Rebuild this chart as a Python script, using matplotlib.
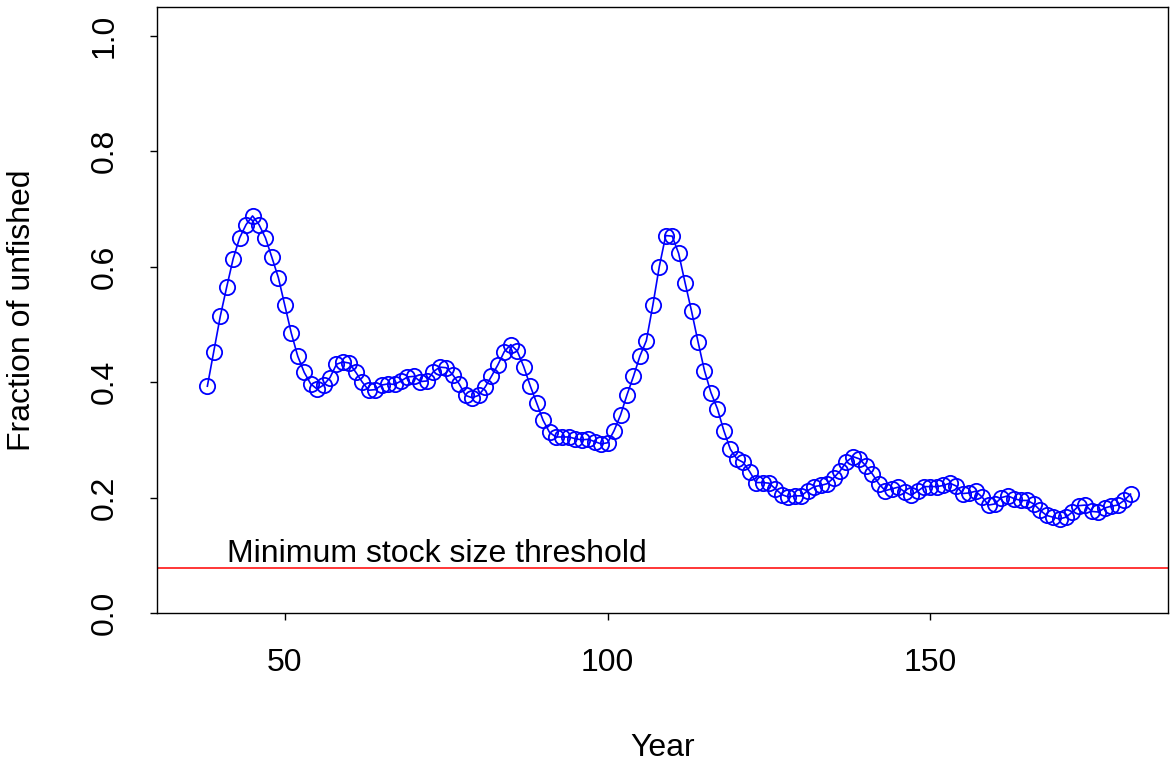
import matplotlib
matplotlib.use("Agg")
import matplotlib.pyplot as plt

plt.rcParams['font.family'] = ['Liberation Sans', 'DejaVu Sans']

years = list(range(38, 182))
fraction = [
    0.393, 0.453, 0.514, 0.565, 0.614, 0.650, 0.673, 0.688, 0.673, 0.650,   # 38-47
    0.616, 0.581, 0.533, 0.485, 0.445, 0.417, 0.397, 0.388, 0.395, 0.408,   # 48-57
    0.431, 0.435, 0.433, 0.417, 0.400, 0.386, 0.387, 0.395, 0.397, 0.396,   # 58-67
    0.402, 0.409, 0.410, 0.401, 0.402, 0.418, 0.426, 0.425, 0.413, 0.397,   # 68-77
    0.377, 0.373, 0.377, 0.391, 0.410, 0.430, 0.453, 0.465, 0.454, 0.427,   # 78-87
    0.394, 0.364, 0.334, 0.313, 0.305, 0.305, 0.305, 0.302, 0.300, 0.301,   # 88-97
    0.297, 0.293, 0.295, 0.316, 0.343, 0.378, 0.410, 0.445, 0.472, 0.533,   # 98-107
    0.600, 0.654, 0.653, 0.623, 0.572, 0.523, 0.470, 0.420, 0.382, 0.354,   # 108-117
    0.316, 0.284, 0.267, 0.261, 0.245, 0.226, 0.226, 0.225, 0.215, 0.205,   # 118-127
    0.201, 0.203, 0.203, 0.212, 0.219, 0.221, 0.224, 0.234, 0.246, 0.262,   # 128-137
    0.271, 0.267, 0.255, 0.241, 0.224, 0.212, 0.215, 0.218, 0.210, 0.204,   # 138-147
    0.211, 0.219, 0.219, 0.219, 0.221, 0.225, 0.220, 0.207, 0.208, 0.211,   # 148-157
    0.201, 0.187, 0.189, 0.200, 0.203, 0.198, 0.195, 0.195, 0.189, 0.178,   # 158-167
    0.169, 0.166, 0.163, 0.166, 0.175, 0.186, 0.187, 0.176, 0.175, 0.182,   # 168-177
    0.185, 0.187, 0.195, 0.206,                                             # 178-181
]
threshold = 0.0787
threshold_label = "Minimum stock size threshold"
x_ticks = [50, 100, 150]
y_ticks = [0.0, 0.2, 0.4, 0.6, 0.8, 1.0]

FS = 23
W, H = 1170, 765
fig = plt.figure(figsize=(W / 100, H / 100), dpi=100)
L, R, T, B = 157, 1168, 7, 613
ax = fig.add_axes([L / W, 1 - B / H, (R - L) / W, (B - T) / H])

ax.plot(years, fraction, color='blue', lw=1.2, marker='o', markersize=11,
        markerfacecolor='none', markeredgecolor='blue', markeredgewidth=1.3)
ax.axhline(threshold, color='red', lw=1.1)
ax.text(41.0, 0.089, threshold_label, fontsize=FS, ha='left', va='baseline')

ax.set_xlim(30.2, 186.8)
ax.set_ylim(0, 1.05)
ax.set_xticks(x_ticks)
ax.set_xticklabels([str(t) for t in x_ticks])
ax.set_yticks(y_ticks)
ax.set_yticklabels([f"{t:.1f}" for t in y_ticks], rotation=90, va='center')
ax.tick_params(axis='x', direction='out', length=5, width=1, labelsize=FS, pad=20)
ax.tick_params(axis='y', direction='out', length=5, width=1, labelsize=FS, pad=22)
for s in ax.spines.values():
    s.set_linewidth(1.0)

ax.set_xlabel("Year", fontsize=FS)
ax.xaxis.label.set_va('center')
ax.xaxis.set_label_coords(0.5, (B - 748) / (B - T))
ax.set_ylabel("Fraction of unfished", fontsize=FS)
ax.yaxis.label.set_va('center')
ax.yaxis.label.set_ha('center')
ax.yaxis.set_label_coords((22 - L) / (R - L), 0.5)

fig.savefig("out.png", dpi=100)
